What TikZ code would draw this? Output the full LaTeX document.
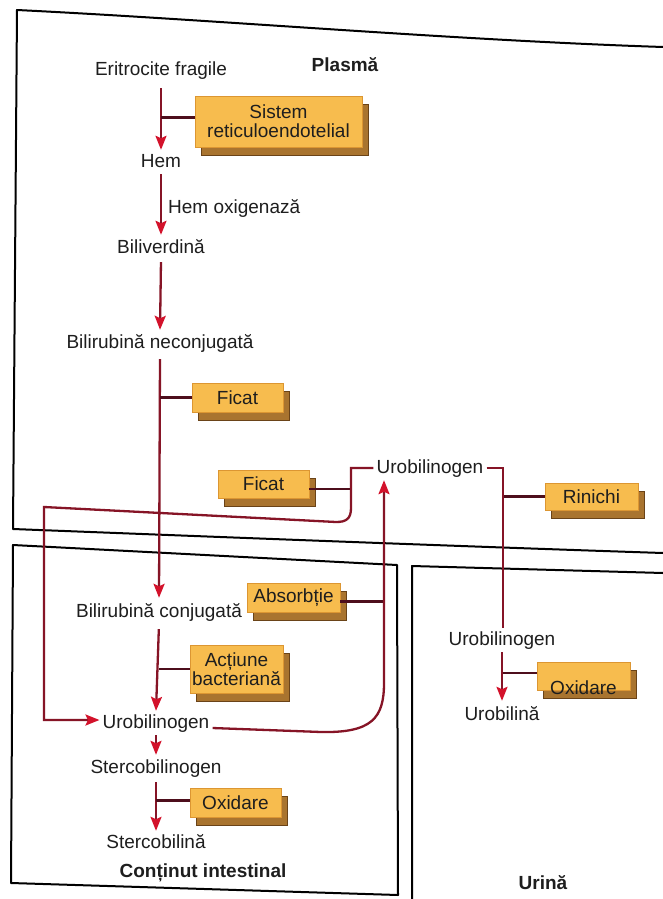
\documentclass[tikz,border=0pt]{standalone}
\usepackage{fontspec}
\setmainfont{Liberation Sans}
\usetikzlibrary{arrows.meta,shadows,calc}
\definecolor{lineC}{HTML}{861426}
\definecolor{arrowC}{HTML}{D3122B}
\definecolor{branchC}{HTML}{4E0E1C}
\definecolor{boxfill}{HTML}{F7BC4E}
\definecolor{boxedge}{HTML}{DC9632}
\definecolor{shadowC}{HTML}{A9742F}
\definecolor{shadowEdge}{HTML}{6A4318}
\definecolor{txt}{HTML}{1E1E1E}
\begin{document}
\begin{tikzpicture}[x=1pt,y=-1pt,
  lbl/.style={font=\fontsize{19}{21}\selectfont, text=txt, inner sep=3pt, text height=14pt, text depth=4pt},
  ttl/.style={font=\fontsize{19}{21}\selectfont\bfseries, text=txt, inner sep=2pt},
  enz/.style={draw=boxedge, fill=boxfill, line width=0.7pt, inner sep=1pt, align=center,
    font=\fontsize{19}{19}\selectfont, text=txt,
    general shadow={fill=shadowC, draw=shadowEdge, line width=0.9pt, shadow xshift=6pt, shadow yshift=-8pt}},
  flow/.style={draw=lineC, line width=2.3pt, -{Stealth[length=14pt,width=11pt,inset=2.5pt,color=arrowC]}},
  plain/.style={draw=lineC, line width=2.3pt},
  branch/.style={draw=branchC, line width=2.2pt},
  border/.style={draw=black, line width=2pt, line join=round}]
\useasboundingbox (0,0) rectangle (663,899);
\fill[white] (0,0) rectangle (663,899);

% compartments
\draw[border] (663,47) .. controls (450,40) and (220,20) .. (17,10) -- (13,529)
  .. controls (220,537) and (450,546) .. (663,553);
\draw[border] (397,565) -- (13,545) -- (11,883) -- (398,895) -- cycle;
\draw[border] (663,573) -- (412,566) -- (412,899);

% titles
\node[ttl] (plasma) at (345,65) {Plasmă};
\node[ttl] (intest) at (203,873) {Conținut intestinal};
\node[ttl] (urina) at (543,883) {Urină};

% metabolites
\node[lbl] (eri) at (161,70) {Eritrocite fragile};
\node[lbl] (hem) at (161,162) {Hem};
\node[lbl] (bili) at (161,248) {Biliverdină};
\node[lbl] (bilin) at (160,343) {Bilirubină neconjugată};
\node[lbl] (bilic) at (159,612) {Bilirubină conjugată};
\node[lbl] (urob) at (156,723) {Urobilinogen};
\node[lbl] (sterg) at (156,768) {Stercobilinogen};
\node[lbl] (sterc) at (156,843) {Stercobilină};
\node[lbl] (uroP) at (430,468) {Urobilinogen};
\node[lbl] (uroU) at (502,640) {Urobilinogen};
\node[lbl] (urobina) at (502,715) {Urobilină};
\node[lbl, anchor=west] (hox) at (165,208) {Hem oxigenază};

% enzyme / organ boxes
\node[enz, minimum width=167pt, minimum height=51pt] (sre) at (278.5,121.5) {Sistem\\reticuloendotelial};
\node[enz, minimum width=91pt, minimum height=29pt] (ficat1) at (237.5,397.5) {Ficat};
\node[enz, minimum width=91pt, minimum height=28pt] (ficat2) at (263.5,484) {Ficat};
\node[enz, minimum width=93pt, minimum height=27pt] (rin) at (591.5,496.5) {Rinichi};
\node[enz, minimum width=93pt, minimum height=29pt] (abs) at (293.5,597.5) {Absorbție};
\node[enz, minimum width=93pt, minimum height=48pt] (act) at (236.5,669) {Acțiune\\bacteriană};
\node[enz, minimum width=91pt, minimum height=29pt] (ox1) at (235.5,802.5) {Oxidare};
\node[enz, minimum width=93pt, minimum height=28pt] (ox2) at (583.5,676) {\smash{\raisebox{-18pt}{Oxidare}}};

\coordinate (upX) at (384,0);
\coordinate (loopX) at (351,0);
\coordinate (leftX) at (44,0);
\coordinate (rightX) at (503,0);

% main pathway
\draw[flow, shorten <=6pt] (eri.south) -- (hem.north);
\draw[flow, shorten >=1pt] (hem.south) -- (bili.north);
\draw[flow, shorten <=2pt, shorten >=1pt] (bili.south) -- (bilin.north);
\draw[flow, shorten <=4pt, shorten >=2pt] (bilin.south) -- (bilic.north);
\draw[flow, shorten <=5pt] (bilic.south) -- (urob.north);
\draw[flow, shorten >=1pt] (urob.south) -- (sterg.north);
\draw[flow, shorten <=2pt] (sterg.south) -- (sterc.north);
\draw[flow, shorten >=2pt] (uroU.south) -- (urobina.north);

% branches from boxes
\draw[branch] ([yshift=4pt]sre.west) -- ([yshift=4pt]sre.west -| eri.south);
\draw[branch] (ficat1.west) -- (ficat1.west -| bilin.south);
\draw[branch] (act.west) -- (act.west -| bilic.south);
\draw[branch] ([yshift=2pt]ox1.west) -- ([yshift=2pt]ox1.west -| sterg.south);
\draw[branch] ([yshift=3pt]ox2.west) -- ([yshift=3pt]ox2.west -| rightX);
\draw[branch] (rin.west) -- (rin.west -| rightX);
\draw[branch] ([yshift=-5pt]ficat2.east) -- ([yshift=-5pt]ficat2.east -| loopX);
\draw[branch] ([yshift=-4pt]abs.east) -- ([yshift=-4pt]abs.east -| upX);

% enterohepatic loop
\draw[flow] (uroP.west) -- (uroP.west -| loopX) -- (351,508)
  .. controls (351,519) and (346,522) .. (336,522) -- (44,507) -- (44,720) -- (urob.west |- 0,720);
\draw[flow] ([yshift=-5pt]urob.east) -- (321,732) .. controls (372,733) and (384,718) .. (384,683)
  -- (uroP.south -| upX);
\draw[plain] (uroP.east) -- (uroP.east -| rightX) -- (rightX |- uroU.north);
\end{tikzpicture}
\end{document}
